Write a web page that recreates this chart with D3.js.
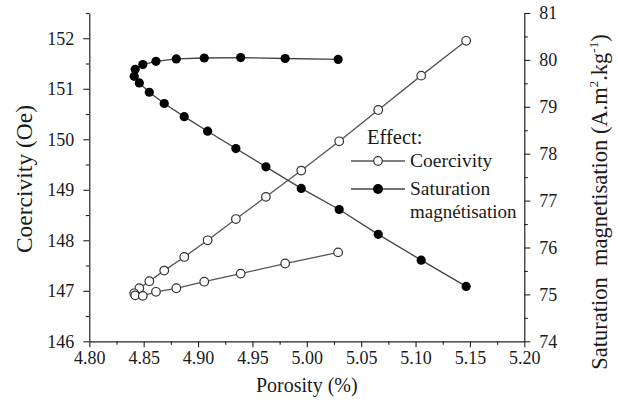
<!DOCTYPE html>
<html>
<head>
<meta charset="utf-8">
<script src="https://cdn.jsdelivr.net/npm/d3@7"></script>
<style>
  html, body { margin: 0; padding: 0; background: #fff; }
  svg { display: block; }
  text { font-family: "Liberation Serif", "Times New Roman", serif; fill: #1a1a1a; }
</style>
</head>
<body>
<svg id="chart" width="618" height="405"></svg>
<script>
// Samples in processing order: porosity falls, turns near 4.84 %, then rises again
const porosity   = [5.1465, 5.1052, 5.0657, 5.0298, 4.9949, 4.9624, 4.9348, 4.9088, 4.8873, 4.8689, 4.8552,
                    4.8460, 4.8413, 4.8422, 4.8492, 4.8613, 4.8800, 4.9057, 4.9392, 4.9801, 5.0288];
const coercivity = [151.95, 151.26, 150.58, 149.96, 149.38, 148.86, 148.42, 148.00, 147.67, 147.40, 147.19,
                    147.05, 146.95, 146.91, 146.90, 146.98, 147.05, 147.18, 147.34, 147.54, 147.76];
const saturation = [75.17, 75.73, 76.28, 76.81, 77.26, 77.72, 78.11, 78.48, 78.79, 79.07, 79.31,
                    79.51, 79.65, 79.80, 79.90, 79.97, 80.02, 80.04, 80.05, 80.03, 80.01];

const xTicks      = [4.80, 4.85, 4.90, 4.95, 5.00, 5.05, 5.10, 5.15, 5.20];
const leftTicks   = [146, 147, 148, 149, 150, 151, 152];
const rightTicks  = [74, 75, 76, 77, 78, 79, 80, 81];
const legendItems = ["Coercivity", "Saturation"];

const svg = d3.select("#chart");
const W = 618, H = 405;
const m = { left: 89.3, right: W - 524.3, top: 13, bottom: H - 341.3 };

const x  = d3.scaleLinear().domain([4.80, 5.20]).range([m.left, W - m.right]);
const yL = d3.scaleLinear().domain([146, 152.5]).range([H - m.bottom, m.top]);
const yR = d3.scaleLinear().domain([74, 81]).range([H - m.bottom, m.top]);

const rows = porosity.map((p, i) => ({ p, hc: coercivity[i], ms: saturation[i] }));

// ---- axes ----
function styleAxis(g) {
  g.select(".domain").attr("stroke", "#222").attr("stroke-width", 1.2);
  g.selectAll(".tick line").attr("stroke", "#222").attr("stroke-width", 1.1);
  g.selectAll(".tick text").style("font-size", "18px").attr("fill", "#1a1a1a");
}

// minor ticks
const xMinor = d3.range(4.825, 5.2, 0.05);
svg.append("g").attr("transform", `translate(0,${H - m.bottom})`)
  .call(d3.axisBottom(x).tickValues(xMinor).tickSize(3.5).tickFormat(""))
  .call(g => { g.select(".domain").remove(); g.selectAll("line").attr("stroke", "#222").attr("stroke-width", 1.1); });
svg.append("g").attr("transform", `translate(${m.left},0)`)
  .call(d3.axisLeft(yL).tickValues(d3.range(146.5, 152.6, 1)).tickSize(3.5).tickFormat(""))
  .call(g => { g.select(".domain").remove(); g.selectAll("line").attr("stroke", "#222").attr("stroke-width", 1.1); });
svg.append("g").attr("transform", `translate(${W - m.right},0)`)
  .call(d3.axisRight(yR).tickValues(d3.range(74.5, 81, 1)).tickSize(3.5).tickFormat(""))
  .call(g => { g.select(".domain").remove(); g.selectAll("line").attr("stroke", "#222").attr("stroke-width", 1.1); });

svg.append("g").attr("transform", `translate(0,${H - m.bottom})`)
  .call(d3.axisBottom(x).tickValues(xTicks).tickFormat(d3.format(".2f")).tickSize(6).tickSizeOuter(0).tickPadding(4))
  .call(styleAxis);
svg.append("g").attr("transform", `translate(${m.left},0)`)
  .call(d3.axisLeft(yL).tickValues(leftTicks).tickFormat(d3.format("d")).tickSize(6).tickSizeOuter(0).tickPadding(9))
  .call(styleAxis);
svg.append("g").attr("transform", `translate(${W - m.right},0)`)
  .call(d3.axisRight(yR).tickValues(rightTicks).tickFormat(d3.format("d")).tickSize(6).tickSizeOuter(0).tickPadding(9))
  .call(styleAxis);

// ---- axis titles ----
svg.append("text").attr("x", (m.left + W - m.right) / 2).attr("y", 392)
  .attr("text-anchor", "middle").style("font-size", "20px").text("Porosity (%)");
svg.append("text").attr("transform", `translate(32,179) rotate(-90)`)
  .attr("text-anchor", "middle").style("font-size", "23.5px").text("Coercivity (Oe)");
const rt = svg.append("text").attr("transform", `translate(607,202) rotate(-90)`)
  .attr("text-anchor", "middle").style("font-size", "22.5px").attr("xml:space", "preserve");
rt.append("tspan").text("Saturation  magnetisation (A.m");
rt.append("tspan").attr("dy", -9).style("font-size", "13px").text("2");
rt.append("tspan").attr("dy", 9).text(".kg");
rt.append("tspan").attr("dy", -9).style("font-size", "13px").text("-1");
rt.append("tspan").attr("dy", 9).text(")");

// ---- series ----
const lineHc = d3.line().x(d => x(d.p)).y(d => yL(d.hc));
const lineMs = d3.line().x(d => x(d.p)).y(d => yR(d.ms));

svg.append("path").datum(rows).attr("d", lineHc)
  .attr("fill", "none").attr("stroke", "#555").attr("stroke-width", 1.3);
svg.append("path").datum(rows).attr("d", lineMs)
  .attr("fill", "none").attr("stroke", "#444").attr("stroke-width", 1.3);

svg.append("g").selectAll("circle").data(rows).join("circle")
  .attr("cx", d => x(d.p)).attr("cy", d => yL(d.hc)).attr("r", 4.3)
  .attr("fill", "#fff").attr("stroke", "#333").attr("stroke-width", 1.2);
svg.append("g").selectAll("circle").data(rows).join("circle")
  .attr("cx", d => x(d.p)).attr("cy", d => yR(d.ms)).attr("r", 4.6)
  .attr("fill", "#000");

// ---- legend ----
const lg = svg.append("g").attr("transform", "translate(351,0)");
lg.append("text").attr("x", 16).attr("y", 144).style("font-size", "20.5px").text("Effect:");
legendItems.forEach((name, i) => {
  const cy = 161 + i * 28;
  lg.append("line").attr("x1", 0).attr("x2", 54).attr("y1", cy).attr("y2", cy)
    .attr("stroke", i ? "#444" : "#555").attr("stroke-width", 1.3);
  if (i === 0) {
    lg.append("circle").attr("cx", 27).attr("cy", cy).attr("r", 4.3)
      .attr("fill", "#fff").attr("stroke", "#333").attr("stroke-width", 1.2);
  } else {
    lg.append("circle").attr("cx", 27).attr("cy", cy).attr("r", 5).attr("fill", "#000");
  }
  lg.append("text").attr("x", 59).attr("y", cy + 6).style("font-size", "19.5px").text(name);
});
lg.append("text").attr("x", 59).attr("y", 195 + 23).style("font-size", "19px").text("magnétisation");
</script>
</body>
</html>
